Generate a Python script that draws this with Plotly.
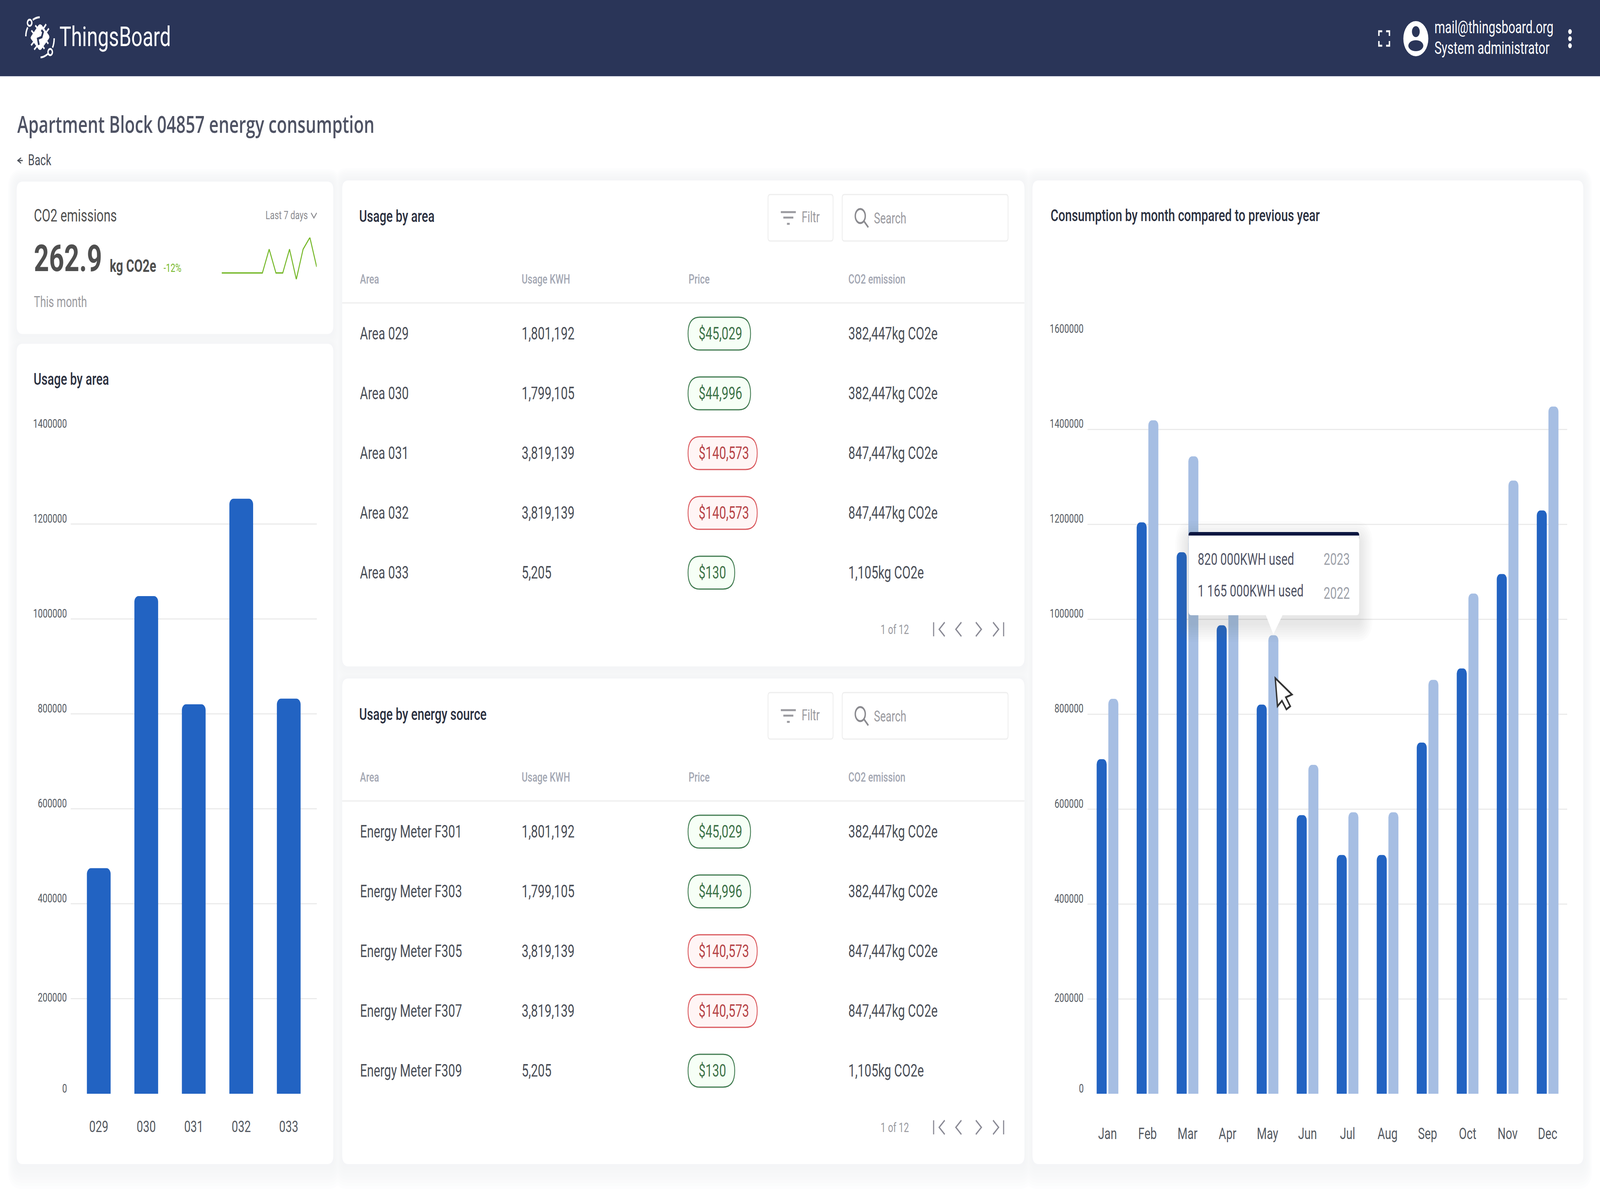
#!/usr/bin/env python3
import plotly.graph_objects as go

W, H = 5760, 3072

# left bar chart
area_codes = ['029', '030', '031', '032', '033']
area_usage = [475000, 1048000, 820000, 1253000, 832000]

# right bar chart
months = ['Jan', 'Feb', 'Mar', 'Apr', 'May', 'Jun', 'Jul', 'Aug', 'Sep', 'Oct', 'Nov', 'Dec']
usage_2023 = [705000, 1204000, 1141000, 987000, 820000, 587000, 503000, 503000, 740000, 896000, 1095000, 1229000]
usage_2022 = [832000, 1419000, 1343000, 1160000, 966000, 693000, 593000, 593000, 872000, 1054000, 1292000, 1448000]

y_ticks = [0, 200000, 400000, 600000, 800000, 1000000, 1200000, 1400000, 1600000]

# CO2 sparkline
spark_values = [28, 28, 28, 28, 28, 28, 28, 133, 28, 28, 133, 0, 133, 185, 55]

# tables
table_columns = ['Area', 'Usage KWH', 'Price', 'CO2 emission']
area_names = ['Area 029', 'Area 030', 'Area 031', 'Area 032', 'Area 033']
meter_names = ['Energy Meter F301', 'Energy Meter F303', 'Energy Meter F305', 'Energy Meter F307', 'Energy Meter F309']
row_usage = ['1,801,192', '1,799,105', '3,819,139', '3,819,139', '5,205']
row_price = ['$45,029', '$44,996', '$140,573', '$140,573', '$130']
row_co2 = ['382,447kg CO2e', '382,447kg CO2e', '847,447kg CO2e', '847,447kg CO2e', '1,105kg CO2e']

BLUE = '#2263c2'
LIGHT = '#a6bee3'
GRID = '#ebebeb'
TEXT = '#4a4e57'
HEAD = '#a3a7b3'
NAVY = '#2a3558'
GREEN = '#76b82a'


def X(p):
    return p / W


def Y(p):
    return 1 - p / H


def rrect(x0, y0, x1, y1, r):
    pts = [
        ('M', x0 + r, y0), ('L', x1 - r, y0), ('Q', x1, y0, x1, y0 + r),
        ('L', x1, y1 - r), ('Q', x1, y1, x1 - r, y1), ('L', x0 + r, y1),
        ('Q', x0, y1, x0, y1 - r), ('L', x0, y0 + r), ('Q', x0, y0, x0 + r, y0),
    ]
    d = ''
    for p in pts:
        if p[0] == 'Q':
            d += f'Q{X(p[1])},{Y(p[2])} {X(p[3])},{Y(p[4])} '
        else:
            d += f'{p[0]}{X(p[1])},{Y(p[2])} '
    return d + 'Z'


def poly(pts, close=True):
    d = 'M' + ' L'.join(f'{X(a)},{Y(b)}' for a, b in pts)
    return d + (' Z' if close else '')


def curve(a, c, b):
    return f'M{X(a[0])},{Y(a[1])} Q{X(c[0])},{Y(c[1])} {X(b[0])},{Y(b[1])}'


shapes = []
notes = []


def path(d, fill='rgba(0,0,0,0)', color='rgba(0,0,0,0)', lw=0, layer='below'):
    shapes.append(dict(type='path', path=d, xref='paper', yref='paper', fillcolor=fill,
                       line=dict(color=color, width=lw), layer=layer))


def circle(cx, cy, rx, ry=None, fill='white', color='rgba(0,0,0,0)', lw=0, layer='below'):
    ry = ry or rx
    shapes.append(dict(type='circle', xref='paper', yref='paper', x0=X(cx - rx), x1=X(cx + rx),
                       y0=Y(cy + ry), y1=Y(cy - ry), fillcolor=fill,
                       line=dict(color=color, width=lw), layer=layer))


def txt(x, y, s, size, color=TEXT, anchor='left', family='Roboto', weight=400):
    notes.append(dict(x=X(x), y=Y(y), xref='paper', yref='paper', text=s, showarrow=False,
                      xanchor=anchor, yanchor='middle',
                      font=dict(family=family, size=size, color=color, weight=weight)))


# header
shapes.append(dict(type='rect', xref='paper', yref='paper', x0=0, x1=1, y0=Y(195), y1=1,
                   fillcolor=NAVY, line=dict(width=0), layer='below'))
shapes.append(dict(type='rect', xref='paper', yref='paper', x0=0, x1=1, y0=Y(198), y1=Y(195),
                   fillcolor='#eef0f6', line=dict(width=0), layer='below'))

# logo: chip with pins, two rings and four arcs
path(poly([(144, 62), (150, 64), (176, 90), (178, 95), (176, 99), (148, 127), (144, 128),
           (140, 127), (112, 100), (110, 97), (112, 93), (139, 64)]), fill='white')
for a, b in [((127, 65), (136, 73)), ((166, 62), (157, 72)), ((176, 73), (167, 82)), ((113, 78), (123, 87)),
             ((112, 116), (122, 107)), ((123, 127), (132, 119)), ((160, 125), (152, 117)), ((174, 112), (165, 103))]:
    path(poly([a, b], close=False), color='white', lw=5)
path(poly([(149, 77), (155, 82), (150, 95), (136, 99), (140, 115)], close=False), color=NAVY, lw=6)
circle(106.7, 58.3, 8, fill=NAVY, color='white', lw=5)
circle(180.7, 133.3, 8, fill=NAVY, color='white', lw=5)
path(curve((118, 51), (128, 45), (143, 44)), color='white', lw=5)
path(curve((93, 93), (93, 80), (100, 70)), color='white', lw=5)
path(curve((195, 98), (195, 112), (189, 122)), color='white', lw=5)
path(curve((146, 147), (160, 146), (172, 138)), color='white', lw=5)
txt(212, 93, 'ThingsBoard', 71, 'white')

# header right side
for pts in [[(4964, 92), (4964, 80), (4976, 80)], [(4990, 80), (5002, 80), (5002, 92)],
            [(4964, 105), (4964, 117), (4976, 117)], [(4990, 117), (5002, 117), (5002, 105)]]:
    path(poly(pts, close=False), color='white', lw=5)
circle(5097, 99, 45)
circle(5097, 81, 14, 14, fill=NAVY)
circle(5097, 117, 27, 14, fill=NAVY)
txt(5162, 71, 'mail@thingsboard.org', 43.5, 'white')
txt(5162, 123, 'System administrator', 43.5, 'white')
for cy in [81, 99, 117]:
    circle(5652, cy, 6.5)

txt(60, 317, 'Apartment Block 04857 energy consumption', 60, '#4f5364', family='Open Sans', weight=600)
path(poly([(76, 404), (64, 411), (76, 418)], close=False), color='#4a4e57', lw=3)
path(poly([(64, 411), (82, 411)], close=False), color='#4a4e57', lw=3)
txt(99, 410, 'Back', 38, '#4a4e57')

# cards: shadows first so they never cover a neighbour
cards = [(60, 465, 1200, 855), (60, 880, 1200, 2980), (1232, 462, 3688, 1706),
         (1232, 1737, 3688, 2980), (3717, 462, 5700, 2980)]
shadow_steps = ['#fdfdfe', '#fbfcfc', '#fafafb', '#f8f9fa', '#f7f8f9', '#f6f7f8', '#f5f6f7', '#f4f5f7']
for i, c in enumerate(shadow_steps):
    k = len(shadow_steps) - i
    for x0, y0, x1, y1 in cards:
        path(rrect(x0 - k * 4, y0 - k * 4, x1 + k * 4, y1 + k * 8, 20 + k * 4), fill=c)
for x0, y0, x1, y1 in cards:
    path(rrect(x0, y0, x1, y1, 22), fill='white')

# CO2 card
txt(120, 552, 'CO2 emissions', 44.5, '#4f4f4f')
txt(954, 551, 'Last 7 days', 30, '#8a8a8f')
path(poly([(1120, 545), (1130, 558), (1140, 545)], close=False), color='#8a8a8f', lw=3)
txt(120, 661, '262.9', 95, '#4f4f4f', weight=700)
txt(393, 681, 'kg CO2e', 44, '#4f4f4f', weight=700)
txt(587, 686, '-12%', 30, GREEN)
txt(120, 773, 'This month', 38, '#9a9a9f')

txt(119, 970, 'Usage by area', 43, '#2b3040', weight=500)
txt(3780, 551, 'Consumption by month compared to previous year', 43, '#2b3040', weight=500)


# tables
def table(dy, title, names):
    txt(1291, 553 + dy, title, 43, '#2b3040', weight=500)
    # filter button
    path(rrect(2765, 498 + dy, 2999, 617 + dy, 8), fill='white', color='#eeeeee', lw=3)
    path(poly([(2811, 543 + dy), (2865, 543 + dy)], close=False), color='#9a9a9f', lw=5)
    path(poly([(2820, 557 + dy), (2856, 557 + dy)], close=False), color='#9a9a9f', lw=5)
    path(poly([(2833, 573 + dy), (2843, 573 + dy)], close=False), color='#9a9a9f', lw=5)
    txt(2884, 556 + dy, 'Filtr', 38, '#9a9a9f')
    # search box
    path(rrect(3032, 498 + dy, 3629, 617 + dy, 8), fill='white', color='#eeeeee', lw=3)
    circle(3097, 553 + dy, 18, fill='white', color='#8a8a8f', lw=5)
    path(poly([(3110, 566 + dy), (3126, 582 + dy)], close=False), color='#8a8a8f', lw=5)
    txt(3144, 559 + dy, 'Search', 38, '#9a9a9f')
    # column heads
    for cx, col in zip([1294, 1876, 2477, 3052], table_columns):
        txt(cx, 714 + dy, col, 33, HEAD, weight=500)
    shapes.append(dict(type='rect', xref='paper', yref='paper', x0=X(1232), x1=X(3688),
                       y0=Y(777 + dy), y1=Y(774 + dy), fillcolor='#eeeeee', line=dict(width=0), layer='below'))
    # rows
    for i in range(len(names)):
        cy = 854 + 153 * i + dy
        txt(1294, cy, names[i], 44)
        txt(1876, cy, row_usage[i], 44)
        txt(3052, cy, row_co2[i], 44)
        price = row_price[i]
        high = len(price) > 7
        pw = {4: 168, 7: 225, 8: 249}[len(price)]
        path(rrect(2477, cy - 42, 2477 + pw, cy + 42, 42),
             fill='#fff5f5' if high else '#f6fff6', color='#d9575c' if high else '#3f7a4f', lw=3)
        txt(2513, cy, price, 44, '#b74448' if high else '#3e7349')
    # pager
    txt(3168, 1611 + dy, '1 of 12', 33, '#9a9a9f')
    ic = '#8a8a95'
    cy = 1611 + dy
    path(poly([(3361, cy - 18), (3361, cy + 18)], close=False), color=ic, lw=4)
    for x0, x1 in [(3401, 3381), (3461, 3441), (3513, 3533), (3575, 3595)]:
        path(poly([(x0, cy - 18), (x1, cy), (x0, cy + 18)], close=False), color=ic, lw=4)
    path(poly([(3613, cy - 18), (3613, cy + 18)], close=False), color=ic, lw=4)


table(0, 'Usage by area', area_names)
table(1275, 'Usage by energy source', meter_names)

# tooltip, drawn over the bars
for k in range(8, 0, -1):
    e = k * 6
    path(rrect(4279 - e, 1362 - e + 20, 4893 + e, 1575 + e + 20, 12 + e), fill='rgba(80,80,90,0.02)', layer='above')
path(rrect(4279, 1362, 4893, 1575, 10), fill='white', layer='above')
path(rrect(4279, 1362, 4893, 1385, 8), fill='#0b1640', layer='above')
shapes.append(dict(type='rect', xref='paper', yref='paper', x0=X(4279), x1=X(4893), y0=Y(1390), y1=Y(1371),
                   fillcolor='white', line=dict(width=0), layer='above'))
path(poly([(4557, 1575), (4617, 1575), (4584, 1624)]), fill='white', layer='above')
txt(4310, 1431, '820 000KWH used', 42, '#4f5364')
txt(4310, 1513, '1 165 000KWH used', 42, '#4f5364')
txt(4861, 1431, '2023', 42, '#9ea2aa', anchor='right')
txt(4861, 1519, '2022', 42, '#9ea2aa', anchor='right')

# mouse pointer
path(poly([(4591, 1736), (4651, 1778), (4629, 1785), (4645, 1808), (4631, 1816), (4615, 1794), (4599, 1808)]),
     fill='white', color='#333333', lw=5, layer='above')

# gridline labels sit a little above the lines, as in the dashboard
for axis, x_right, ticks in [('y', 243, y_ticks[:-1]), ('y2', 3903, y_ticks)]:
    for v in ticks:
        notes.append(dict(x=X(x_right), y=v, xref='paper', yref=axis, text=str(v), showarrow=False,
                          xanchor='right', yanchor='middle', yshift=3 if v == 200000 else 14,
                          font=dict(family='Roboto', size=31, color='#555a62')))

fig = go.Figure()
fig.add_trace(go.Bar(x=area_codes, y=area_usage, marker=dict(color=BLUE, cornerradius=15, line=dict(width=0)),
                     xaxis='x', yaxis='y', showlegend=False))
fig.add_trace(go.Bar(x=months, y=usage_2023, name='2023', marker=dict(color=BLUE, cornerradius=13, line=dict(width=0)),
                     xaxis='x2', yaxis='y2', showlegend=False))
fig.add_trace(go.Bar(x=months, y=usage_2022, name='2022', marker=dict(color=LIGHT, cornerradius=13, line=dict(width=0)),
                     xaxis='x2', yaxis='y2', showlegend=False))
fig.add_trace(go.Scatter(x=list(range(len(spark_values))), y=spark_values, mode='lines',
                         line=dict(color=GREEN, width=3.5), xaxis='x3', yaxis='y3', showlegend=False))

tick_font = dict(family='Roboto', size=41, color='#555a62')
fig.update_layout(
    width=W, height=H, autosize=False,
    margin=dict(l=0, r=0, t=0, b=0),
    paper_bgcolor='white', plot_bgcolor='rgba(0,0,0,0)',
    hovermode=False,
    bargap=0.4167, bargroupgap=0.1429,
    shapes=shapes, annotations=notes,
    xaxis=dict(domain=[X(254), X(1140)], type='category', range=[-0.594, 4.588], tickfont=tick_font,
               ticks='', ticklabelstandoff=56, showgrid=False, zeroline=False, showline=False, anchor='y'),
    yaxis=dict(domain=[Y(2800), Y(1098)], range=[0, 1400000], tickvals=y_ticks[:-1], showticklabels=False,
               gridcolor=GRID, gridwidth=3, zeroline=False, showline=False, anchor='x'),
    xaxis2=dict(domain=[X(3915), X(5642)], type='category', range=[-0.5, 11.49], tickfont=tick_font,
                ticks='', ticklabelstandoff=74, showgrid=False, zeroline=False, showline=False, anchor='y2'),
    yaxis2=dict(domain=[Y(2800), Y(856)], range=[0, 1600000], tickvals=y_ticks, showticklabels=False,
                gridcolor=GRID, gridwidth=3, zeroline=False, showline=False, anchor='x2'),
    xaxis3=dict(domain=[X(798), X(1140)], range=[0, 14], visible=False, anchor='y3'),
    yaxis3=dict(domain=[Y(715), Y(608)], range=[0, 185], visible=False, anchor='x3'),
)

# the browser window came up 4096x3072 rather than 5760x3072 when tested, which cuts off
# the right of a fixed-size figure, so fit the 5760x3072 layout to whatever window there is
fit_window = """
var gd = document.getElementById('{plot_id}');
document.body.style.margin = '0';
document.documentElement.style.overflow = 'hidden';
gd.style.transformOrigin = '0 0';
gd.style.transform = 'scale(' + window.innerWidth / 5760 + ',' + window.innerHeight / 3072 + ')';
"""
fig.write_html("out.html", post_script=fit_window, config={'displayModeBar': False})
